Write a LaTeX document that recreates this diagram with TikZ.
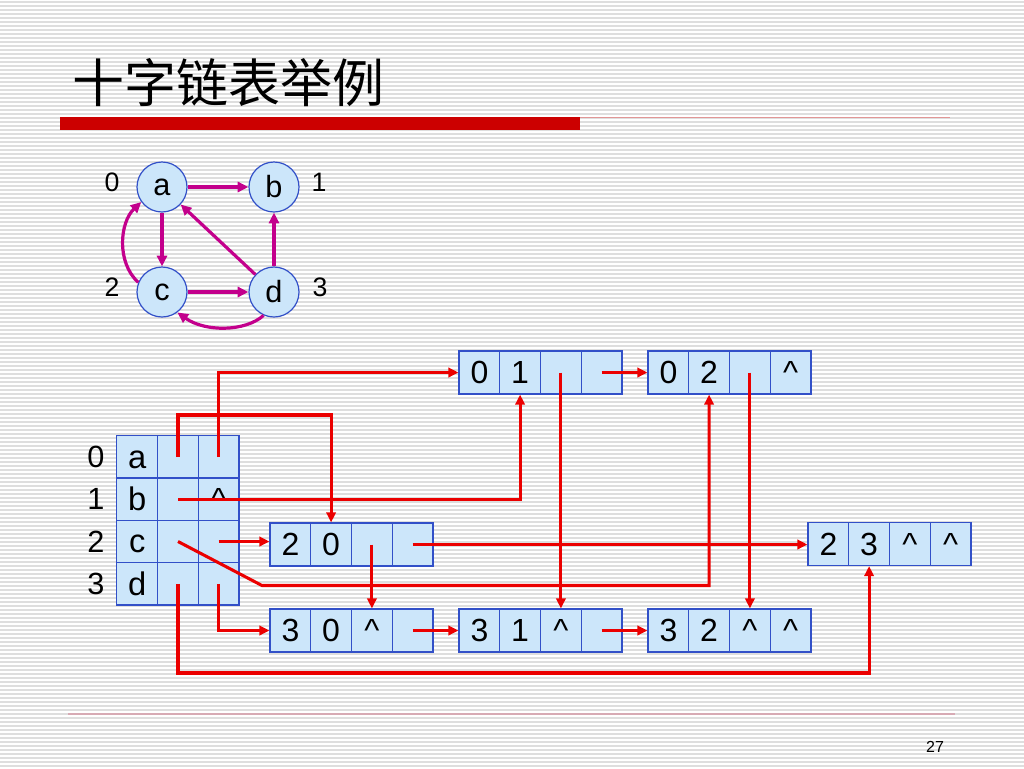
\documentclass[tikz,border=0pt]{standalone}
\usepackage{fontspec}
\setmainfont{Liberation Sans}
\newfontfamily\cjk{Noto Sans CJK SC}
\usetikzlibrary{arrows.meta,calc}
\definecolor{cellfill}{RGB}{204,230,250}
\definecolor{cellline}{RGB}{50,80,200}
\definecolor{linkred}{RGB}{235,0,0}
\definecolor{edgemag}{RGB}{195,0,140}
\definecolor{stripegray}{RGB}{222,222,222}
\definecolor{barred}{RGB}{204,0,0}
\definecolor{thinred}{RGB}{225,150,150}
\definecolor{footline}{RGB}{215,170,180}
\newcommand\mkarc[7]{%
  \node[cell] (#1-1) at ({#2+20.4},#3) {#4};
  \node[cell] (#1-2) at ({#2+61.1},#3) {#5};
  \node[cell] (#1-3) at ({#2+101.9},#3) {#6};
  \node[cell] (#1-4) at ({#2+142.6},#3) {#7};
}
\newcommand\crt{\textasciicircum}
\begin{document}
\begin{tikzpicture}[x=0.75pt,y=-0.75pt,
  cell/.style={draw=cellline,line width=0.9pt,fill=cellfill,inner sep=0pt,
    minimum width=30.56pt,minimum height=32.25pt,text height=17pt,text depth=0pt,
    font=\fontsize{24}{26}\selectfont},
  vcell/.style={cell,minimum height=31.7pt},
  vletter/.style={vcell,font=\fontsize{24.5}{26}\selectfont},
  rowlbl/.style={inner sep=0pt,font=\fontsize{23}{24}\selectfont},
  gnode/.style={circle,draw=cellline,line width=0.9pt,fill=cellfill,minimum size=37.5pt,
    inner sep=0pt,font=\fontsize{23}{24}\selectfont},
  glbl/.style={inner sep=0pt,font=\fontsize{20}{22}\selectfont},
  marr/.style={draw=edgemag,line width=2.4pt,-{Triangle[length=8pt,width=7.5pt]}},
  rarr/.style={draw=linkred,line width=2.3pt,-{Triangle[length=7.5pt,width=7pt]}},
  stripe/.style={draw=stripegray,line width=1.1pt}]
\useasboundingbox (0,0) rectangle (1024,768);
\fill[white] (0,0) rectangle (1024,768);
\foreach \i in {0,...,191} \draw[stripe] (0,{4*\i+2}) -- (1024,{4*\i+2});
% title
\node[anchor=west,inner sep=0pt,font=\cjk\fontsize{39}{42}\selectfont] (title) at (72,83) {十字链表举例};
\fill[barred] (60,117) rectangle (580,130);
\draw[thinred,line width=1.1pt] (580,117.5) -- (950,117.5);
\draw[footline,line width=0.9pt] (68,714) -- (955,714);
\node[inner sep=0pt,font=\fontsize{12}{14}\selectfont] (pagenum) at (935,747) {27};
% graph
\node[gnode] (ga) at (162,187) {a};
\node[gnode] (gb) at (274,187) {b};
\node[gnode] (gc) at (162,292) {c};
\node[gnode] (gd) at (274,292) {d};
\node[glbl] (g0) at (112,182) {0};
\node[glbl] (g1) at (319,182) {1};
\node[glbl] (g2) at (112,287) {2};
\node[glbl] (g3) at (320,287) {3};
\draw[marr] (ga) -- (gb);
\draw[marr] (ga) -- (gc);
\draw[marr] (gd) -- (ga);
\draw[marr] (gd) -- (gb);
\draw[marr] (gc) -- (gd);
\draw[marr] (gc.158) .. controls (116,262) and (120,222) .. (ga.216);
\draw[marr] (gd.246) .. controls (245,332) and (205,332) .. (gc.307);
% vertex table
\node[vletter] (v0-1) at (137.2,457) {a};
\node[vcell] (v0-2) at (178,457) {};
\node[vcell] (v0-3) at (218.7,457) {};
\node[vletter] (v1-1) at (137.2,499.2) {b};
\node[vcell] (v1-2) at (178,499.2) {};
\node[vcell] (v1-3) at (218.7,499.2) {\crt};
\node[vletter] (v2-1) at (137.2,541.5) {c};
\node[vcell] (v2-2) at (178,541.5) {};
\node[vcell] (v2-3) at (218.7,541.5) {};
\node[vletter] (v3-1) at (137.2,583.8) {d};
\node[vcell] (v3-2) at (178,583.8) {};
\node[vcell] (v3-3) at (218.7,583.8) {};
\node[rowlbl] (r0) at (96,457) {0};
\node[rowlbl] (r1) at (96,499.2) {1};
\node[rowlbl] (r2) at (96,541.5) {2};
\node[rowlbl] (r3) at (96,583.8) {3};
% arc nodes
\mkarc{n01}{459}{372.5}{0}{1}{}{}
\mkarc{n02}{648}{372.5}{0}{2}{}{\crt}
\mkarc{n20}{270}{544.5}{2}{0}{}{}
\mkarc{n23}{808}{544}{2}{3}{\crt}{\crt}
\mkarc{n30}{270}{630.5}{3}{0}{\crt}{}
\mkarc{n31}{459}{630.5}{3}{1}{\crt}{}
\mkarc{n32}{648}{630.5}{3}{2}{\crt}{\crt}
% connectors
\coordinate (k1) at (0,415);
\coordinate (k4) at (262,585.5);
\coordinate (k6) at (0,673);
\draw[rarr] (v0-2.center) |- (k1 -| n20-2.north) -- (n20-2.north);
\draw[rarr] (v0-3.center) |- (n01-1.west);
\draw[rarr] (v1-2.center) -| (n01-2.south);
\draw[rarr] (v2-2.center) -- (k4) -| (n02-2.south);
\draw[rarr] (v2-3.center) -- (v2-3.center -| n20-1.west);
\draw[rarr] (v3-2.center) |- (k6 -| n23-2.south) -- (n23-2.south);
\draw[rarr] (v3-3.center) |- (n30-1.west);
\draw[rarr] (n20-3.center) -- (n30-3.north);
\draw[rarr] (n20-4.center) -- (n20-4.center -| n23-1.west);
\draw[rarr] (n30-4.center) -- (n31-1.west);
\draw[rarr] (n01-3.center) -- (n31-3.north);
\draw[rarr] (n01-4.center) -- (n02-1.west);
\draw[rarr] (n02-3.center) -- (n32-3.north);
\draw[rarr] (n31-4.center) -- (n32-1.west);
\end{tikzpicture}
\end{document}
